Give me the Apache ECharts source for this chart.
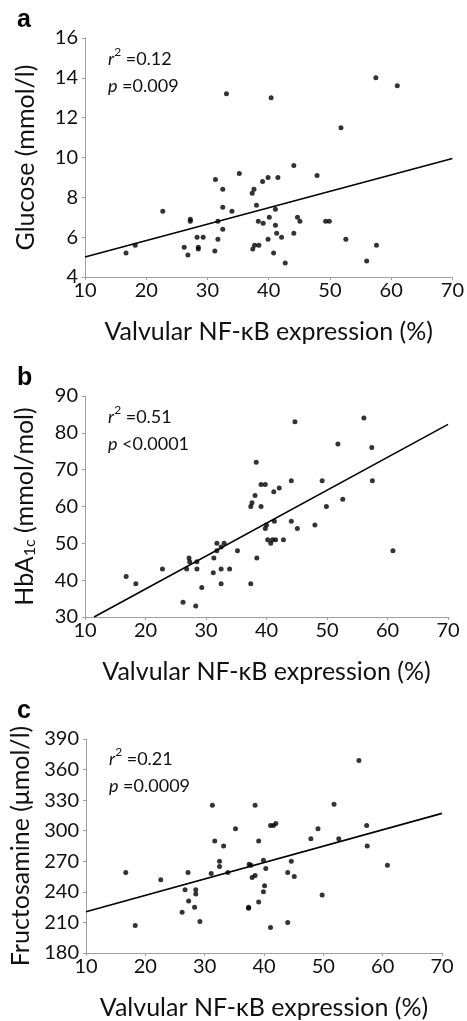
<!DOCTYPE html>
<html>
<head>
<meta charset="utf-8">
<script src="https://cdn.jsdelivr.net/npm/echarts@6/dist/echarts.min.js"></script>
<style>
html,body{margin:0;padding:0;background:#fff;}
#chart{width:467px;height:1021px;}
</style>
</head>
<body>
<div id="chart"></div>
<script>
// ---- data ----
const xTickLabels = [10, 20, 30, 40, 50, 60, 70];
const yTicksA = [4, 6, 8, 10, 12, 14, 16];
const yTicksB = [30, 40, 50, 60, 70, 80, 90];
const yTicksC = [180, 210, 240, 270, 300, 330, 360, 390];

const nfkbA = [16.7,18.2,22.7,26.2,26.8,27.2,27.2,28.3,28.5,28.5,29.3,31.2,31.3,31.7,31.7,32.5,32.5,32.5,34.0,35.2,37.3,37.6,37.4,37.7,38.0,38.4,38.3,39.0,39.1,39.9,39.9,40.1,40.8,41.1,41.1,41.3,41.5,42.1,42.7,44.1,44.1,44.7,45.1,47.9,49.3,49.9,52.6,56.0,57.6,33.1,40.4,51.8,57.5,61.0];
const glucose = [5.2,5.6,7.3,5.5,5.1,6.9,6.8,6.0,5.5,5.4,6.0,5.3,8.9,5.9,6.8,8.4,7.5,6.4,7.3,9.2,8.2,8.4,5.4,5.6,7.6,5.6,6.8,8.8,6.7,9.0,5.9,7.0,5.2,7.4,6.6,6.2,9.0,6.0,4.7,9.6,6.2,7.0,6.8,9.1,6.8,6.8,5.9,4.8,5.6,13.2,13.0,11.5,14.0,13.6];
const fitA = [[10, 5.0], [70, 9.95]];

const nfkbB = [16.8,18.4,22.8,26.2,26.8,27.2,27.3,28.3,28.5,28.5,29.3,31.2,31.3,31.8,31.8,32.5,32.5,32.5,33.0,33.9,35.2,37.4,37.6,37.4,38.1,38.4,39.1,39.1,39.8,39.8,40.0,40.2,40.7,41.0,41.2,41.3,41.5,42.1,42.8,44.1,44.1,45.1,48.0,49.2,49.9,52.6,57.5,60.9,38.3,44.7,51.8,56.1,57.4];
const hba1c = [41,39,43,34,43,46,45,33,45,43,38,42,46,50,48,49,43,39,50,43,48,60,61,39,63,46,66,60,66,54,55,51,50,51,64,56,51,65,51,67,56,54,55,67,60,62,67,48,72,83,77,84,76];
const fitB = [[11.5, 30], [70, 82.3]];

const nfkbC = [16.7,18.3,22.6,26.2,26.7,27.2,27.3,28.3,28.5,28.5,29.2,31.1,31.7,32.5,32.5,33.2,33.9,35.2,37.4,37.4,37.5,37.8,38.0,38.5,39.1,39.1,39.9,39.9,40.1,40.3,41.1,41.1,41.6,42.0,44.0,44.0,44.6,45.1,47.9,49.1,49.8,52.6,57.3,57.4,60.8,31.3,38.5,51.8,56.0];
const fructosamine = [259,207,252,220,242,259,231,225,242,238,211,258,290,270,265,285,259,302,225,224,267,266,254,256,230,290,271,240,246,263,205,305,305,307,259,210,270,255,292,302,237,292,305,285,266,325,325,326,369];
const fitC = [[10, 220.5], [70, 317]];

const panelLetters = ['a', 'b', 'c'];
const xName = 'Valvular NF-\u03baB expression (%)';
const yNames = ['Glucose (mmol/l)', 'HbA{sub|1c} (mmol/mol)', 'Fructosamine (\u03bcmol/l)'];
const statTexts = [
  ['0.12', '=0.009'],
  ['0.51', '<0.0001'],
  ['0.21', '=0.0009']
];

// ---- build ----
const zip = (xs, ys) => xs.map((x, i) => [x, ys[i]]);
const FONT = 'Lato';
const AX = '#a0a0a0';

const grids = [
  {left: 85, top: 38, width: 369, height: 239},
  {left: 85, top: 396, width: 363, height: 221},
  {left: 86, top: 739, width: 356, height: 222}
];
const yTicks = [yTicksA, yTicksB, yTicksC];

const xAxes = grids.map((g, i) => ({
  type: 'value', gridIndex: i,
  min: xTickLabels[0], max: xTickLabels[xTickLabels.length - 1],
  interval: xTickLabels[1] - xTickLabels[0],
  axisLine: {show: true, onZero: false, lineStyle: {color: AX, width: 1}},
  axisTick: {show: true, length: 3, lineStyle: {color: AX}},
  splitLine: {show: false},
  axisLabel: {color: '#111', fontSize: 20, fontFamily: FONT, margin: 4},
  name: xName, nameLocation: 'middle', nameGap: 42,
  nameTextStyle: {color: '#111', fontSize: 25, fontFamily: FONT}
}));

const yAxes = grids.map((g, i) => ({
  type: 'value', gridIndex: i,
  min: yTicks[i][0], max: yTicks[i][yTicks[i].length - 1],
  interval: yTicks[i][1] - yTicks[i][0],
  axisLine: {show: true, onZero: false, lineStyle: {color: AX, width: 1}},
  axisTick: {show: true, length: 3, lineStyle: {color: AX}},
  splitLine: {show: false},
  axisLabel: {color: '#111', fontSize: 20, fontFamily: FONT, margin: 7},
  name: yNames[i], nameLocation: 'middle', nameGap: 47,
  nameTextStyle: {color: '#111', fontSize: 25, fontFamily: FONT,
    rich: {sub: {fontSize: 16, fontFamily: FONT, color: '#111', verticalAlign: 'bottom', padding: [10, 0, 0, 0]}}}
}));

const pts = [zip(nfkbA, glucose), zip(nfkbB, hba1c), zip(nfkbC, fructosamine)];
const fits = [fitA, fitB, fitC];
const series = [];
pts.forEach((d, i) => {
  series.push({
    type: 'line', xAxisIndex: i, yAxisIndex: i, data: fits[i],
    symbol: 'none', lineStyle: {color: '#000', width: 1.6}, silent: true, animation: false
  });
  series.push({
    type: 'scatter', xAxisIndex: i, yAxisIndex: i, data: d,
    symbolSize: 5, itemStyle: {color: '#000'}, animation: false
  });
});

const letterTops = [8, 366, 699];
const statTops = [46, 404, 746];
const graphic = [];
panelLetters.forEach((l, i) => {
  graphic.push({
    type: 'text', left: 17, top: letterTops[i],
    style: {text: l, font: 'bold 25px "Liberation Sans", Arial, sans-serif', fill: '#000'}
  });
  graphic.push({
    type: 'text', left: grids[i].left + 23, top: statTops[i],
    style: {
      text: '{i|r}{s|2} =' + statTexts[i][0] + '\n{i|p} ' + statTexts[i][1],
      fill: '#111', fontSize: 18, fontFamily: FONT, lineHeight: 27,
      rich: {
        i: {fontStyle: 'italic', fontSize: 18, fontFamily: FONT, lineHeight: 27},
        s: {fontSize: 12, fontFamily: FONT, verticalAlign: 'top', lineHeight: 27, padding: [0, 0, 8, 0]}
      }
    }
  });
});

const chart = echarts.init(document.getElementById('chart'), null, {renderer: 'canvas'});
chart.setOption({
  animation: false,
  backgroundColor: '#fff',
  grid: grids,
  xAxis: xAxes,
  yAxis: yAxes,
  series: series,
  graphic: graphic
});
</script>
</body>
</html>
